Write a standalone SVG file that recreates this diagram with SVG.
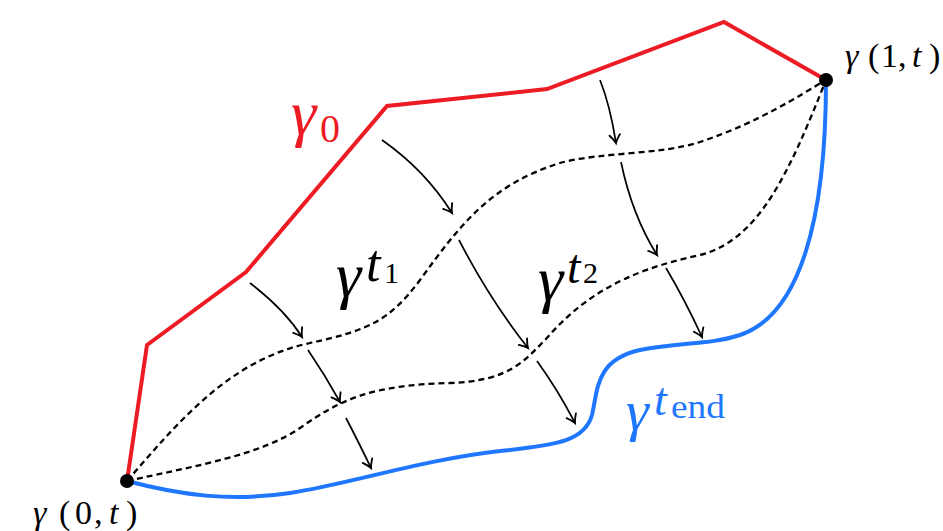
<svg xmlns="http://www.w3.org/2000/svg" width="943" height="531" viewBox="0 0 943 531">
<defs>
<marker id="ah" markerUnits="userSpaceOnUse" markerWidth="14" markerHeight="14" viewBox="-8 -6 10 12" refX="0" refY="0" orient="auto" overflow="visible">
<path d="M-7,-4.5 Q-2.5,-1 0,0 Q-2.5,1 -7,4.5" fill="none" stroke="#000" stroke-width="1.6" stroke-linecap="round"/>
</marker>
<style>
.red{fill:none;stroke:#ed1c24;stroke-width:4;stroke-linejoin:miter}
.blue{fill:none;stroke:#1f77ff;stroke-width:4}
.dash{fill:none;stroke:#000;stroke-width:2.3;stroke-dasharray:6 4}
.arr{fill:none;stroke:#000;stroke-width:1.7;marker-end:url(#ah)}
text{font-family:"Liberation Serif",serif}
.i{font-style:italic}
</style>
</defs>
<g id="gamma0">
<polyline class="red" points="127,481 147,345 246,272 387,106 547,89 724,22 826,80"/>
</g>
<g id="gammaEnd">
<path class="blue" d="M127,481 C180,495 230,502 290,493 C350,484 420,460 500,451 C560,445 585,440 592,415 C598,390 595,360 640,350 C680,342 710,345 740,335 C800,315 826,220 826,80"/>
</g>
<g id="gammaT1">
<path class="dash" d="M127,481 C180,420 230,360 310,343 C370,330 390,320 420,280 C460,225 490,185 560,163 C600,152 660,155 700,142 C760,122 800,95 826,80"/>
</g>
<g id="gammaT2">
<path class="dash" d="M127,481 C200,465 260,455 300,428 C340,400 370,385 450,383 C510,381 525,360 545,340 C580,300 620,272 700,255 C760,240 790,170 826,80"/>
</g>
<g id="connectors">
<path class="arr" d="M250,283 Q285,310 302,337"/>
<path class="arr" d="M308,350 Q325,375 340,402"/>
<path class="arr" d="M346,418 Q360,445 371,468"/>
<path class="arr" d="M382,140 Q425,170 452,213"/>
<path class="arr" d="M459,240 Q490,300 528,348"/>
<path class="arr" d="M537,361 Q558,390 575,423"/>
<path class="arr" d="M600,80 Q610,105 616,143"/>
<path class="arr" d="M621,162 Q632,215 657,255"/>
<path class="arr" d="M666,268 Q685,300 702,337"/>
</g>
<g id="p0">
<circle cx="127" cy="481" r="7" fill="#000"/>
<text font-size="34" y="524"><tspan class="i" x="33">γ</tspan><tspan x="59">(</tspan><tspan x="75">0</tspan><tspan x="94">,</tspan><tspan class="i" x="109">t</tspan><tspan x="126">)</tspan></text>
</g>
<g id="p1">
<circle cx="826" cy="80" r="7" fill="#000"/>
<text font-size="34" y="67"><tspan class="i" x="845">γ</tspan><tspan x="868">(</tspan><tspan x="881">1</tspan><tspan x="898">,</tspan><tspan class="i" x="912">t</tspan><tspan x="929">)</tspan></text>
</g>
<g id="label-gamma0" fill="#ed1c24">
<text class="i" font-size="64" x="291" y="134">γ</text>
<text font-size="40" x="320" y="142">0</text>
</g>
<g id="label-t1">
<text class="i" font-size="64" x="336" y="296">γ</text>
<text class="i" font-size="52" x="366" y="281">t</text>
<text font-size="30" x="384" y="283">1</text>
</g>
<g id="label-t2">
<text class="i" font-size="64" x="538" y="300">γ</text>
<text class="i" font-size="48" x="567" y="283">t</text>
<text font-size="30" x="583" y="283">2</text>
</g>
<g id="label-tend" fill="#1f77ff">
<text class="i" font-size="58" x="626" y="430">γ</text>
<text class="i" font-size="46" x="654" y="415">t</text>
<text font-size="34" x="671" y="418" textLength="54" lengthAdjust="spacingAndGlyphs">end</text>
</g>
</svg>
